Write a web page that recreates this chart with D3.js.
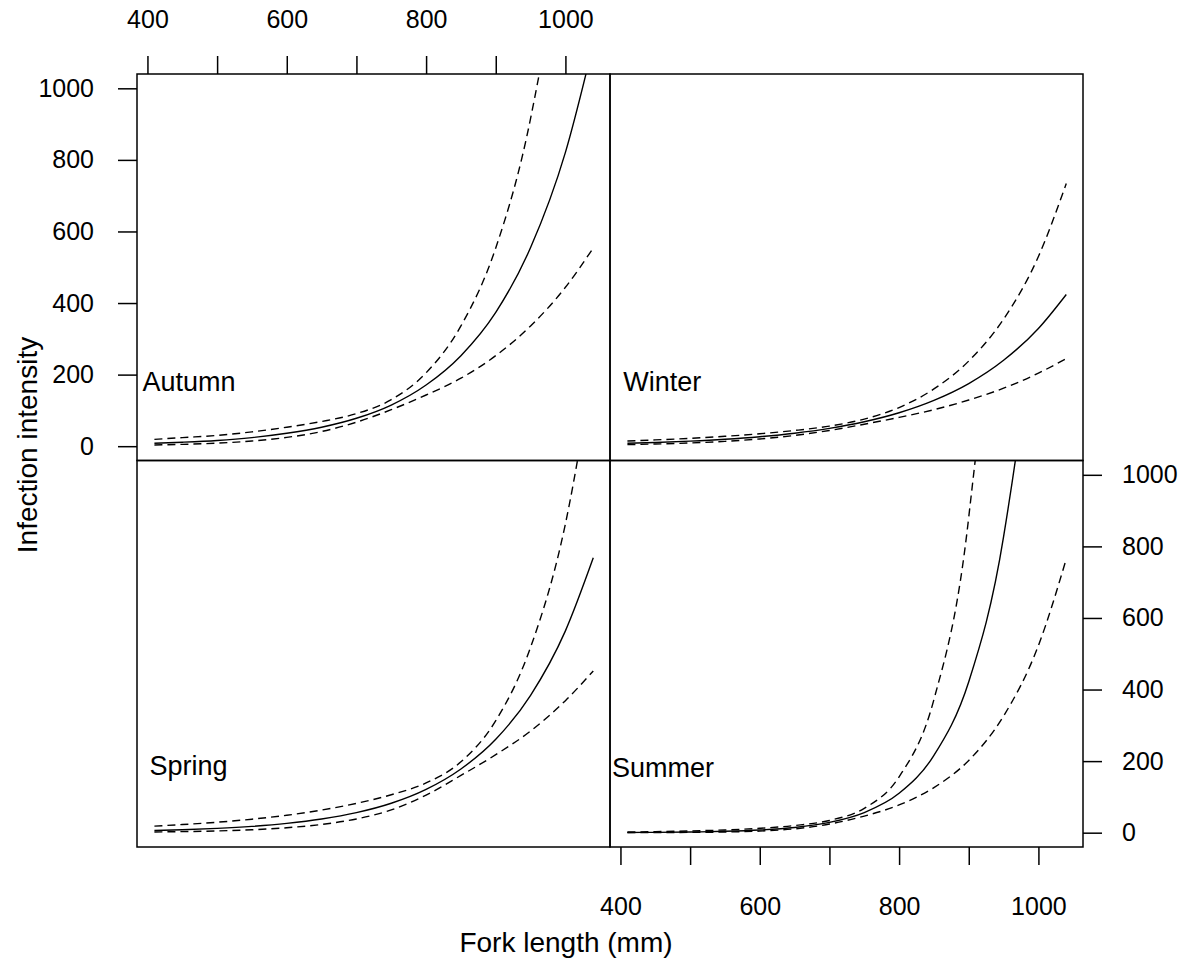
<html>

<head>
    <meta charset="UTF-8">
    <title>Infection intensity by fork length</title>
    <script src="https://cdn.jsdelivr.net/npm/d3@7/dist/d3.min.js" charset="utf-8"></script>
    <style>
        body { margin: 0; background: #fff; }
        text { font-family: "Liberation Sans", Arial, sans-serif; fill: #000; }
    </style>
</head>

<body>
    <svg id="mySvg" width="1190" height="959"></svg>
    <script>
        // fork length (mm) where the curves were read
        var forkLength = [410, 450, 500, 550, 600, 650, 700, 750, 800, 850, 900, 950, 1000, 1040];

        // fitted intensity (solid) and the two dashed limits, per season
        var autumnFit   = [8, 11, 16, 24, 36, 53, 78, 115, 171, 253, 374, 555, 821, 1124];
        var autumnUpper = [19, 24, 30, 40, 53, 69, 91, 130, 205, 336, 554, 916, 1519, 2282];
        var autumnLower = [3.4, 5.1, 8.5, 14.5, 24.5, 41, 67, 102, 143, 190, 253, 336, 444, 554];

        var winterFit   = [8, 10.3, 14.1, 19.3, 26.5, 36.3, 49.7, 68.2, 93.4, 128, 175, 240, 329, 424];
        var winterUpper = [14.6, 17.5, 22, 27.6, 34.7, 43.9, 56.2, 75.7, 108, 160, 238, 355, 530, 734];
        var winterLower = [4.4, 6.1, 9.0, 13.5, 20.2, 30.0, 44.0, 61.4, 80.5, 102, 129, 162, 204, 245];

        var springFit   = [6, 8.2, 12, 17.6, 25.9, 38.1, 56, 82.2, 121, 178, 261, 384, 564, 768];
        var springUpper = [18.4, 22.7, 29.2, 37.7, 48.7, 63.2, 81.8, 106, 139, 198, 313, 518, 863, 1306];
        var springLower = [2.0, 3.0, 4.9, 8.2, 13.8, 23.0, 38.4, 63.7, 105, 160, 218, 284, 369, 452];

        var summerFit   = [0.58, 0.99, 1.95, 3.81, 7.47, 14.6, 28.7, 56.2, 110, 216, 422, 827, 1621, 2776];
        var summerUpper = [2.0, 2.9, 4.8, 7.7, 12.3, 20.0, 34.2, 68.0, 156, 372, 882, 2100, 5025, 10077];
        var summerLower = [0.17, 0.33, 0.80, 1.9, 4.5, 10.7, 24.1, 46.4, 77.5, 126, 202, 326, 523, 765];

        var seasons = ["Autumn", "Winter", "Spring", "Summer"];
        var xTicks = [400, 500, 600, 700, 800, 900, 1000];
        var xTickLabels = [400, 600, 800, 1000];
        var yTicks = [0, 200, 400, 600, 800, 1000];

        var curves = {
            Autumn: [autumnLower, autumnFit, autumnUpper],
            Winter: [winterLower, winterFit, winterUpper],
            Spring: [springLower, springFit, springUpper],
            Summer: [summerLower, summerFit, summerUpper]
        };

        // layout (pixels)
        var panelLeft = 137, panelTop = 74, panelW = 473, panelH = 386.5;
        var cells = { Autumn: [0, 0], Winter: [1, 0], Spring: [0, 1], Summer: [1, 1] };
        // where the season name sits, in data units
        var labelPos = { Autumn: [393, 182], Winter: [404, 182], Spring: [403, 188], Summer: [388, 182] };

        var svg = d3.select("#mySvg");
        var defs = svg.append("defs");

        function xScale(col) {
            return d3.scaleLinear().domain([385, 1064])
                .range([panelLeft + col * panelW, panelLeft + (col + 1) * panelW]);
        }
        function yScale(row) {
            return d3.scaleLinear().domain([-40, 1040])
                .range([panelTop + (row + 1) * panelH, panelTop + row * panelH]);
        }

        seasons.forEach(function (s, i) {
            var col = cells[s][0], row = cells[s][1];
            var x = xScale(col), y = yScale(row);
            var g = svg.append("g");

            defs.append("clipPath").attr("id", "clip" + i)
                .append("rect")
                .attr("x", x.range()[0]).attr("y", y.range()[1])
                .attr("width", panelW).attr("height", panelH);

            var line = d3.line()
                .x(function (d, k) { return x(forkLength[k]); })
                .y(function (d) { return y(d); })
                .curve(d3.curveMonotoneX);

            var lines = g.append("g").attr("clip-path", "url(#clip" + i + ")");
            curves[s].forEach(function (vals, k) {
                lines.append("path")
                    .attr("d", line(vals))
                    .attr("fill", "none")
                    .attr("stroke", "#000")
                    .attr("stroke-width", 1.4)
                    .attr("stroke-dasharray", k == 1 ? null : "8,5");
            });

            g.append("text")
                .attr("x", x(labelPos[s][0]))
                .attr("y", y(labelPos[s][1]))
                .attr("dy", "0.36em")
                .style("font-size", "27px")
                .text(s);

            g.append("rect")
                .attr("x", x.range()[0]).attr("y", y.range()[1])
                .attr("width", panelW).attr("height", panelH)
                .attr("fill", "none").attr("stroke", "#000").attr("stroke-width", 1.5);
        });

        function styleAxis(sel) {
            sel.select(".domain").remove();
            sel.selectAll(".tick line").attr("stroke", "#000").attr("stroke-width", 1.5);
            sel.selectAll(".tick text").style("font-size", "25px").attr("fill", "#000")
                .style("font-family", "'Liberation Sans', Arial, sans-serif");
        }
        var fmtX = function (d) { return xTickLabels.indexOf(d) >= 0 ? d : ""; };

        svg.append("g").attr("transform", "translate(0," + panelTop + ")")
            .call(d3.axisTop(xScale(0)).tickValues(xTicks).tickFormat(fmtX).tickSize(18).tickPadding(28))
            .call(styleAxis);

        svg.append("g").attr("transform", "translate(0," + (panelTop + 2 * panelH) + ")")
            .call(d3.axisBottom(xScale(1)).tickValues(xTicks).tickFormat(fmtX).tickSize(18).tickPadding(32))
            .call(styleAxis);

        svg.append("g").attr("transform", "translate(" + panelLeft + ",0)")
            .call(d3.axisLeft(yScale(0)).tickValues(yTicks).tickFormat(d3.format("d")).tickSize(19).tickPadding(24))
            .call(styleAxis);

        svg.append("g").attr("transform", "translate(" + (panelLeft + 2 * panelW) + ",0)")
            .call(d3.axisRight(yScale(1)).tickValues(yTicks).tickFormat(d3.format("d")).tickSize(19).tickPadding(20))
            .call(styleAxis);

        svg.append("text")
            .attr("x", 566).attr("y", 952)
            .attr("text-anchor", "middle")
            .style("font-size", "28px")
            .text("Fork length (mm)");

        svg.append("text")
            .attr("transform", "translate(37,445) rotate(-90)")
            .attr("text-anchor", "middle")
            .style("font-size", "28px")
            .text("Infection intensity");
    </script>
</body>

</html>
